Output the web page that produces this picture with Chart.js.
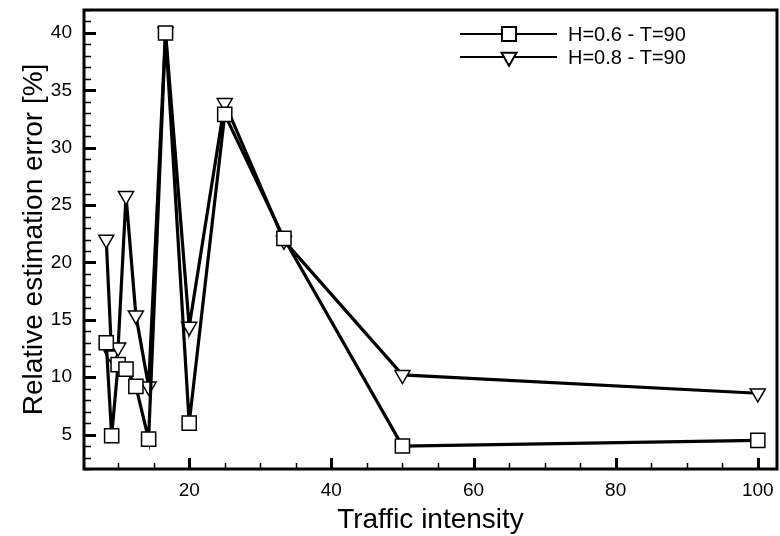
<!DOCTYPE html>
<html>
<head>
<meta charset="utf-8">
<script src="https://cdn.jsdelivr.net/npm/chart.js@4/dist/chart.umd.min.js"></script>
<style>
  html, body { margin: 0; padding: 0; background: #fff; }
</style>
</head>
<body>
<canvas id="chart" width="780" height="536"></canvas>
<script>
// traffic intensity (x) and the relative estimation error of both runs
const intensity = [8.33, 9.09, 10, 11.11, 12.5, 14.29, 16.67, 20, 25, 33.33, 50, 100];
const errH06 = [13.0, 4.9, 11.1, 10.7, 9.2, 4.6, 40.0, 6.0, 32.9, 22.1, 4.0, 4.5];
const errH08 = [22.0, 11.9, 12.6, 25.8, 15.4, 9.2, 40.1, 14.4, 33.9, 21.9, 10.2, 8.6];
const seriesNames = ["H=0.6 - T=90", "H=0.8 - T=90"];

const xTicks = [20, 40, 60, 80, 100];
const yTicks = [5, 10, 15, 20, 25, 30, 35, 40];

const ctx = document.getElementById("chart").getContext("2d");
Chart.defaults.font.family = "'Liberation Sans', Arial, sans-serif";
Chart.defaults.color = "#000";

// frame + inward tick marks (major and minor)
const frameTicks = {
  id: "frameTicks",
  afterDraw(chart) {
    const { ctx, chartArea: a, scales } = chart;
    const xs = scales.x, ys = scales.y;
    ctx.save();
    ctx.strokeStyle = "#000";
    ctx.lineCap = "butt";
    for (let v = Math.ceil(ys.min); v <= ys.max; v++) {
      const y = Math.round(ys.getPixelForValue(v)) + 0.5;
      const major = v % 5 === 0;
      ctx.lineWidth = major ? 3 : 1.5;
      ctx.beginPath();
      ctx.moveTo(a.left, y);
      ctx.lineTo(a.left + (major ? 12 : 7), y);
      ctx.stroke();
    }
    for (let v = 10; v <= xs.max; v += 5) {
      const x = Math.round(xs.getPixelForValue(v)) + 0.5;
      const major = v % 20 === 0;
      ctx.lineWidth = major ? 3 : 1.5;
      ctx.beginPath();
      ctx.moveTo(x, a.bottom);
      ctx.lineTo(x, a.bottom - (major ? 11 : 6));
      ctx.stroke();
    }
    ctx.lineWidth = 3;
    ctx.strokeRect(a.left, a.top, a.right - a.left, a.bottom - a.top);
    ctx.restore();
  },
};

// legend drawn inside the plot, top right
const innerLegend = {
  id: "innerLegend",
  afterDraw(chart) {
    const { ctx } = chart;
    ctx.save();
    chart.data.datasets.forEach((ds, i) => {
      const y = 34 + i * 23;
      ctx.strokeStyle = "#000";
      ctx.lineWidth = 2;
      ctx.beginPath();
      ctx.moveTo(460, y);
      ctx.lineTo(557, y);
      ctx.stroke();
      ctx.fillStyle = "#fff";
      ctx.strokeStyle = "#000";
      Chart.helpers.drawPoint(ctx, {
        pointStyle: ds.pointStyle,
        rotation: ds.pointRotation || 0,
        radius: ds.pointRadius,
        borderWidth: 1.5,
      }, 509, y);
      ctx.fillStyle = "#000";
      ctx.font = "20px 'Liberation Sans', Arial, sans-serif";
      ctx.textBaseline = "middle";
      ctx.fillText(ds.label, 568, y + 1);
    });
    ctx.restore();
  },
};

const toPoints = (ys) => intensity.map((x, i) => ({ x: x, y: ys[i] }));

new Chart(ctx, {
  type: "line",
  data: {
    datasets: [
      {
        label: seriesNames[0],
        data: toPoints(errH06),
        borderColor: "#000",
        borderWidth: 3.2,
        pointStyle: "rect",
        pointRadius: 10,
        pointBackgroundColor: "#fff",
        pointBorderColor: "#000",
        pointBorderWidth: 1.5,
        tension: 0,
      },
      {
        label: seriesNames[1],
        data: toPoints(errH08),
        borderColor: "#000",
        borderWidth: 3.2,
        pointStyle: "triangle",
        pointRotation: 180,
        pointRadius: 8.7,
        pointBackgroundColor: "#fff",
        pointBorderColor: "#000",
        pointBorderWidth: 1.5,
        tension: 0,
      },
    ],
  },
  options: {
    responsive: false,
    animation: false,
    devicePixelRatio: 1,
    layout: { autoPadding: false, padding: { top: 10, right: 3, left: 0, bottom: 0 } },
    plugins: { legend: { display: false }, tooltip: { enabled: false } },
    scales: {
      x: {
        type: "linear",
        min: 5.2,
        max: 102.7,
        afterBuildTicks: (s) => { s.ticks = xTicks.map((v) => ({ value: v })); },
        afterFit: (s) => { s.height = 67; s.paddingLeft = 0; s.paddingRight = 0; },
        grid: { display: false, drawTicks: false },
        border: { display: false },
        ticks: { font: { size: 19 }, padding: 10, maxRotation: 0 },
        title: {
          display: true,
          text: "Traffic intensity",
          font: { size: 28, lineHeight: 1 },
          padding: { top: 0, bottom: 2 },
        },
      },
      y: {
        min: 2,
        max: 42,
        afterBuildTicks: (s) => { s.ticks = yTicks.map((v) => ({ value: v })); },
        afterFit: (s) => { s.width = 84; s.paddingTop = 0; s.paddingBottom = 0; },
        grid: { display: false, drawTicks: false },
        border: { display: false },
        ticks: { font: { size: 19 }, padding: 12 },
        title: {
          display: true,
          text: "Relative estimation error [%]",
          font: { size: 28, lineHeight: 1 },
          padding: { top: 20, bottom: 0 },
        },
      },
    },
  },
  plugins: [frameTicks, innerLegend],
});
</script>
</body>
</html>
